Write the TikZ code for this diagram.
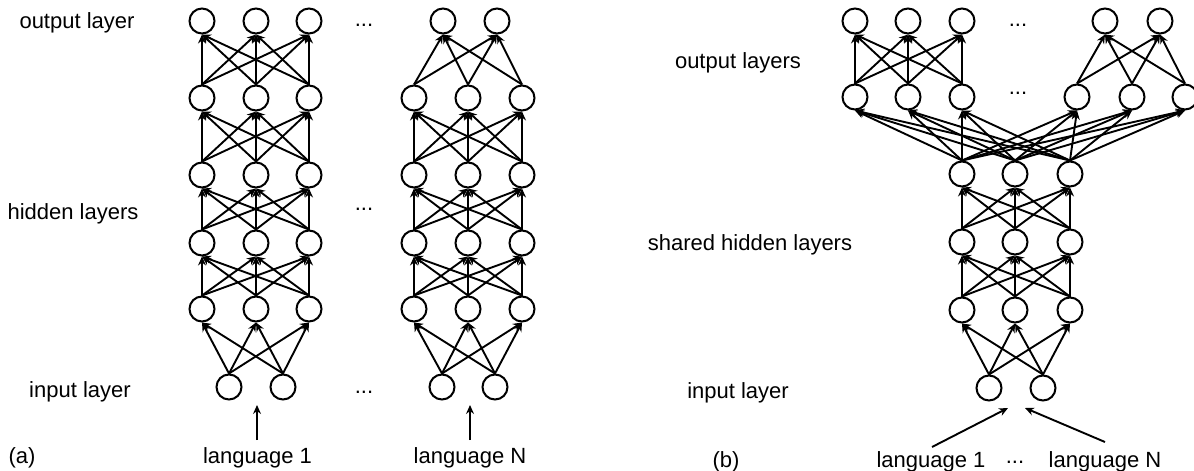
\documentclass[tikz,border=0pt]{standalone}
\usepackage{fontspec}
\setmainfont{Liberation Sans}
\usetikzlibrary{arrows.meta}
\begin{document}
\begin{tikzpicture}[x=1pt,y=-1pt,
  neuron/.style={circle,draw,line width=2pt,minimum size=25pt,inner sep=0pt},
  conn/.style={line width=1.9pt,-{Stealth[length=9pt,width=8pt,inset=3pt]}},
  lbl/.style={font=\fontsize{22}{26}\selectfont,anchor=base,inner sep=0pt},
  dotsn/.style={font=\fontsize{22}{26}\selectfont,inner sep=0pt}]
\useasboundingbox (0,0) rectangle (1194,471);

% ---------------- (a) left network ----------------
\foreach \r/\y in {1/21,2/98,3/175,4/243,5/309}{
  \foreach \c/\x in {1/202,2/256,3/309}{
    \node[neuron] (L\r\c) at (\x,\y) {};
  }
}
\node[neuron] (Li1) at (229,387) {};
\node[neuron] (Li2) at (283,387) {};
\foreach \lo/\hi in {2/1,3/2,4/3,5/4}{
  \foreach \a in {1,2,3}{
    \foreach \b in {1,2,3}{
      \draw[conn] (L\lo\a.north) -- (L\hi\b.south);
    }
  }
}
\foreach \a in {1,2}{
  \foreach \b in {1,2,3}{
    \draw[conn] (Li\a.north) -- (L5\b.south);
  }
}

% ---------------- (a) right network ----------------
\foreach \r/\y in {2/98,3/175,4/243,5/309}{
  \foreach \c/\x in {1/414,2/468,3/522}{
    \node[neuron] (R\r\c) at (\x,\y) {};
  }
}
\node[neuron] (R11) at (443,21) {};
\node[neuron] (R12) at (497,21) {};
\node[neuron] (Ri1) at (442,387) {};
\node[neuron] (Ri2) at (495,387) {};
\foreach \lo/\hi in {3/2,4/3,5/4}{
  \foreach \a in {1,2,3}{
    \foreach \b in {1,2,3}{
      \draw[conn] (R\lo\a.north) -- (R\hi\b.south);
    }
  }
}
\foreach \a in {1,2,3}{
  \foreach \b in {1,2}{
    \draw[conn] (R2\a.north) -- (R1\b.south);
  }
}
\foreach \a in {1,2}{
  \foreach \b in {1,2,3}{
    \draw[conn] (Ri\a.north) -- (R5\b.south);
  }
}

% (a) labels
\node[lbl] (tOutA) at (77,28) {output layer};
\node[lbl] (tHidA) at (73,219) {hidden layers};
\node[lbl] (tInA) at (80,397) {input layer};
\node[lbl] (tA) at (22,463) {(a)};
\node[lbl] (tL1A) at (257.5,463) {language 1};
\node[lbl] (tLNA) at (470,463) {language N};
\node[dotsn] (dA1) at (364,25) {...};
\node[dotsn] (dA2) at (364,209) {...};
\node[dotsn] (dA3) at (364,392) {...};
\coordinate (la1s) at (257,440);
\coordinate (la1e) at (257,405);
\coordinate (laNs) at (470,440);
\coordinate (laNe) at (470,405);
\draw[conn] (la1s) -- (la1e);
\draw[conn] (laNs) -- (laNe);

% ---------------- (b) ----------------
\foreach \c/\x in {1/855,2/908,3/962}{
  \node[neuron] (Ot\c) at (\x,21) {};
  \node[neuron] (Ob\c) at (\x,97) {};
}
\node[neuron] (Ot4) at (1105,21) {};
\node[neuron] (Ot5) at (1160,21) {};
\node[neuron] (Ob4) at (1077,97) {};
\node[neuron] (Ob5) at (1132,97) {};
\node[neuron] (Ob6) at (1185,97) {};
\foreach \r/\y in {1/174,2/242,3/310}{
  \foreach \c/\x in {1/962,2/1015,3/1070}{
    \node[neuron] (S\r\c) at (\x,\y) {};
  }
}
\node[neuron] (Si1) at (989,388) {};
\node[neuron] (Si2) at (1043,388) {};

\foreach \a in {1,2,3}{
  \foreach \b in {1,2,3}{
    \draw[conn] (Ob\a.north) -- (Ot\b.south);
  }
}
\foreach \a in {4,5,6}{
  \foreach \b in {4,5}{
    \draw[conn] (Ob\a.north) -- (Ot\b.south);
  }
}
\foreach \a in {1,2,3}{
  \foreach \b in {1,...,6}{
    \draw[conn] (S1\a.north) -- (Ob\b.south);
  }
}
\foreach \lo/\hi in {2/1,3/2}{
  \foreach \a in {1,2,3}{
    \foreach \b in {1,2,3}{
      \draw[conn] (S\lo\a.north) -- (S\hi\b.south);
    }
  }
}
\foreach \a in {1,2}{
  \foreach \b in {1,2,3}{
    \draw[conn] (Si\a.north) -- (S3\b.south);
  }
}

% (b) labels
\node[lbl] (tOutB) at (738,68) {output layers};
\node[lbl] (tHidB) at (750,250) {shared hidden layers};
\node[lbl] (tInB) at (738,398) {input layer};
\node[lbl] (tB) at (726,467) {(b)};
\node[lbl] (tL1B) at (931,467) {language 1};
\node[lbl] (tLNB) at (1105,467) {language N};
\node[dotsn] (dB1) at (1018,25) {...};
\node[dotsn] (dB2) at (1018,93) {...};
\node[dotsn] (dB3) at (1015,462) {...};
\coordinate (lb1s) at (932,447);
\coordinate (lb1e) at (1008,408);
\coordinate (lbNs) at (1105,442);
\coordinate (lbNe) at (1025,408);
\draw[conn] (lb1s) -- (lb1e);
\draw[conn] (lbNs) -- (lbNe);
\end{tikzpicture}
\end{document}
